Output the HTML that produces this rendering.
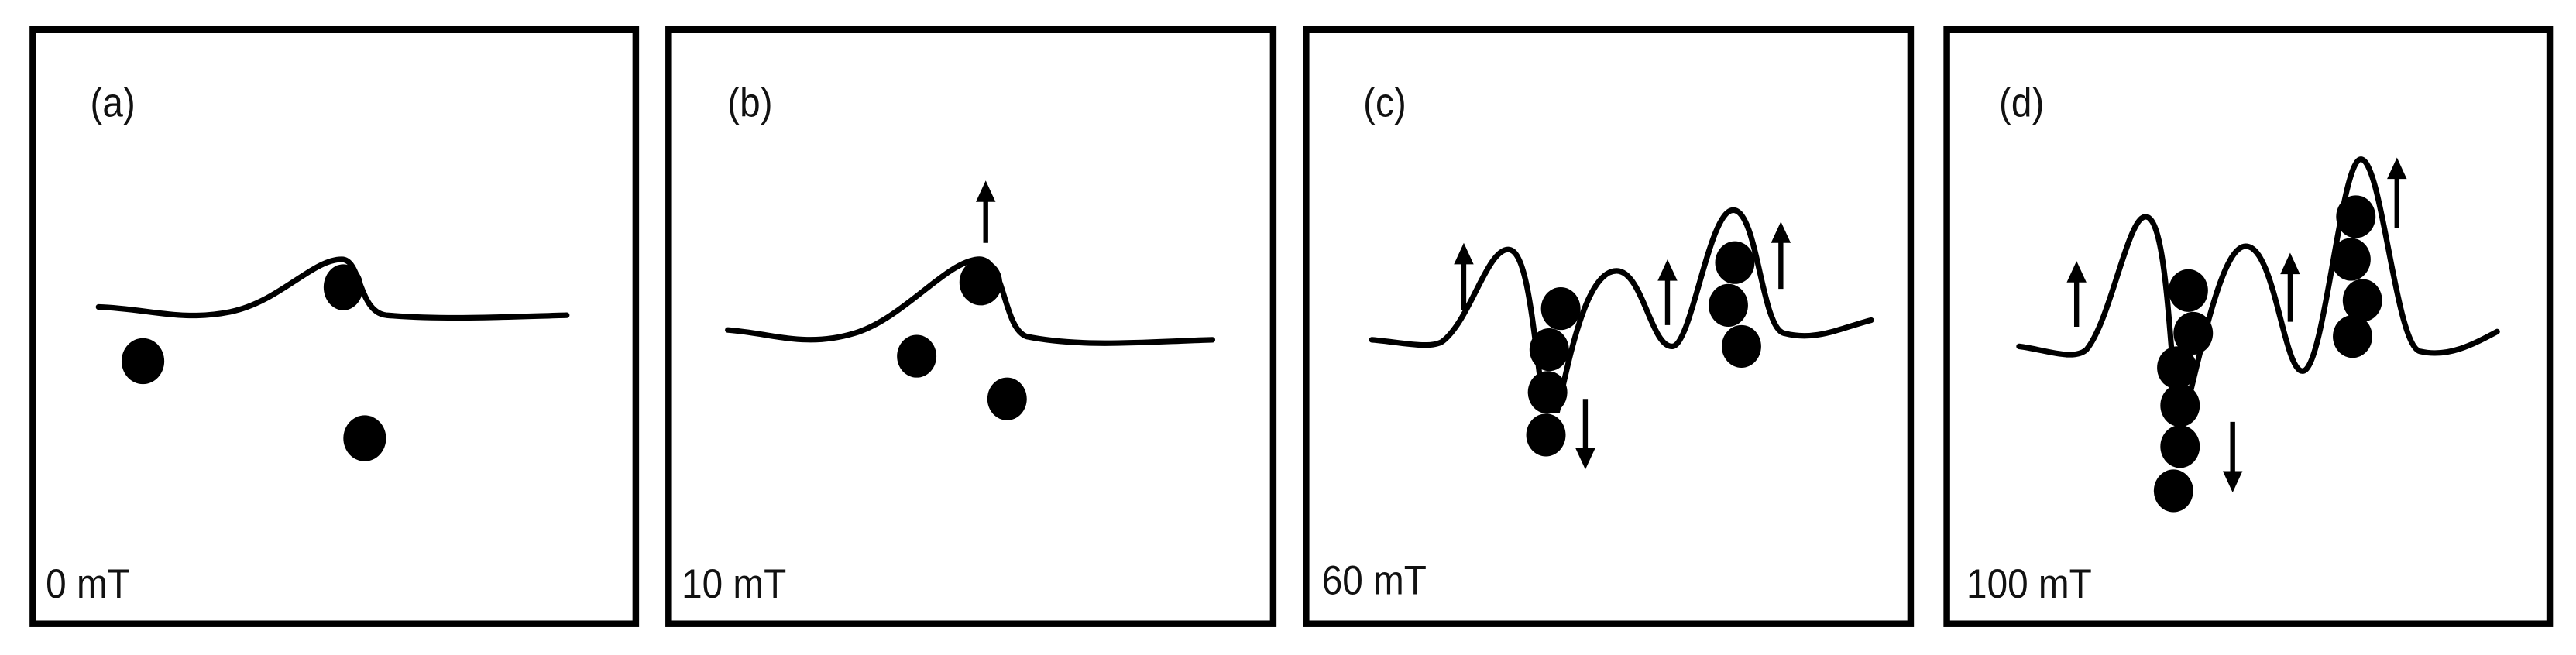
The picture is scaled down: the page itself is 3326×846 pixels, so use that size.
<!DOCTYPE html>
<html><head><meta charset="utf-8"><style>
html,body{margin:0;padding:0;background:#fff;}
svg{display:block;}
text{font-family:"Liberation Sans",sans-serif;fill:#111;}
</style></head><body>
<svg width="3326" height="846" viewBox="0 0 1568 399" preserveAspectRatio="none" xmlns="http://www.w3.org/2000/svg">
<g fill="none" stroke="#000" stroke-width="4">
<rect x="20" y="18" width="367" height="362"/>
<rect x="407" y="18" width="368" height="362"/>
<rect x="795" y="18" width="368" height="362"/>
<rect x="1185" y="18" width="367" height="362"/>
</g>
<g font-size="25" transform="scale(0.9,1)">
<text x="61" y="71">(a)</text>
<text x="492" y="71">(b)</text>
<text x="922" y="71">(c)</text>
<text x="1352" y="71">(d)</text>
<text x="31" y="364" fill="#222">0 mT</text>
<text x="461" y="364" fill="#222">10 mT</text>
<text x="894" y="362" fill="#333">60 mT</text>
<text x="1330" y="364" fill="#222">100 mT</text>
</g>
<g fill="none" stroke="#000" stroke-width="3.4" stroke-linecap="round">
<path d="M60,187 C90,188 110,196 140,190 C170,184 190,158 208,158 C220,158 218,190 235,192 C270,195 310,193 345,192"/>
<path d="M443,201 C470,203 490,212 520,203 C550,194 575,160 595,158 C612,156 610,200 625,205 C660,212 700,208 738,207"/>
<path d="M835,207 C850,208 870,213 878,208 C895,195 905,152 918,152 C930,152 933,200 940,250 L948,250 C955,220 965,165 984,165 C1000,165 1005,212 1018,211 C1030,210 1040,128 1055,128 C1070,128 1072,200 1086,203 C1105,208 1120,200 1139,195"/>
<path d="M1229,211 C1245,213 1262,220 1270,213 C1285,195 1295,132 1306,132 C1318,132 1320,200 1325,250 L1333,240 C1345,190 1355,150 1367,150 C1385,150 1390,228 1402,226 C1415,224 1425,97 1437,97 C1450,97 1458,210 1473,214 C1490,218 1505,210 1520,202"/>
</g>
<g fill="#000">
<ellipse cx="209" cy="175" rx="12" ry="14"/>
<ellipse cx="87" cy="220" rx="13" ry="14"/>
<ellipse cx="222" cy="267" rx="13" ry="14"/>
<ellipse cx="597" cy="172" rx="13" ry="14"/>
<ellipse cx="558" cy="217" rx="12" ry="13"/>
<ellipse cx="613" cy="243" rx="12" ry="13"/>
<ellipse cx="950" cy="188" rx="12" ry="13"/>
<ellipse cx="943" cy="213" rx="12" ry="13"/>
<ellipse cx="942" cy="239" rx="12" ry="13"/>
<ellipse cx="941" cy="265" rx="12" ry="13"/>
<ellipse cx="1056" cy="160" rx="12" ry="13"/>
<ellipse cx="1052" cy="186" rx="12" ry="13"/>
<ellipse cx="1060" cy="211" rx="12" ry="13"/>
<ellipse cx="1332" cy="177" rx="12" ry="13"/>
<ellipse cx="1335" cy="203" rx="12" ry="13"/>
<ellipse cx="1325" cy="224" rx="12" ry="13"/>
<ellipse cx="1327" cy="247" rx="12" ry="13"/>
<ellipse cx="1327" cy="272" rx="12" ry="13"/>
<ellipse cx="1323" cy="299" rx="12" ry="13"/>
<ellipse cx="1434" cy="132" rx="12" ry="13"/>
<ellipse cx="1431" cy="158" rx="12" ry="13"/>
<ellipse cx="1438" cy="183" rx="12" ry="13"/>
<ellipse cx="1432" cy="205" rx="12" ry="13"/>
</g>
<g stroke="#000" stroke-width="3">
<line x1="600" y1="148" x2="600" y2="120"/>
<line x1="891" y1="189" x2="891" y2="158"/>
<line x1="1015" y1="198" x2="1015" y2="168"/>
<line x1="1084" y1="176" x2="1084" y2="145"/>
<line x1="965" y1="243" x2="965" y2="276"/>
<line x1="1264" y1="199" x2="1264" y2="169"/>
<line x1="1394" y1="196" x2="1394" y2="164"/>
<line x1="1459" y1="139" x2="1459" y2="106"/>
<line x1="1359" y1="257" x2="1359" y2="290"/>
</g>
<g fill="#000">
<polygon points="600,110 594,123 606,123"/>
<polygon points="891,148 885,161 897,161"/>
<polygon points="1015,158 1009,171 1021,171"/>
<polygon points="1084,135 1078,148 1090,148"/>
<polygon points="965,286 959,273 971,273"/>
<polygon points="1264,159 1258,172 1270,172"/>
<polygon points="1394,154 1388,167 1400,167"/>
<polygon points="1459,96 1453,109 1465,109"/>
<polygon points="1359,300 1353,287 1365,287"/>
</g>
</svg>
</body></html>
